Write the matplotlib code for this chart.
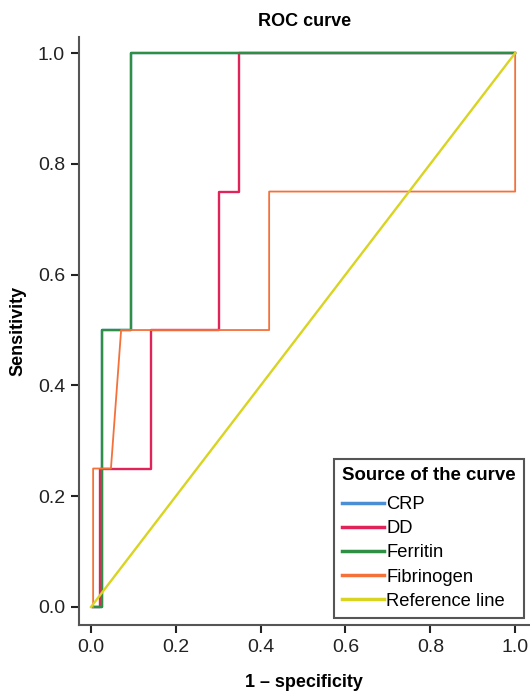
import matplotlib.pyplot as plt

plt.rcParams['font.family'] = ['Liberation Sans', 'DejaVu Sans']

# ROC steps (1 - specificity, sensitivity)
crp_x = [0.005, 0.026, 0.026, 0.094, 0.094, 1.0]
crp_y = [0.0, 0.0, 0.5, 0.5, 1.0, 1.0]

dd_x = [0.005, 0.021, 0.021, 0.142, 0.142, 0.302, 0.302, 0.349, 0.349, 1.0]
dd_y = [0.0, 0.0, 0.25, 0.25, 0.5, 0.5, 0.75, 0.75, 1.0, 1.0]

ferritin_x = [0.005, 0.026, 0.026, 0.094, 0.094, 1.0]
ferritin_y = [0.0, 0.0, 0.5, 0.5, 1.0, 1.0]

fib_x = [0.005, 0.005, 0.047, 0.071, 0.42, 0.42, 1.0, 1.0]
fib_y = [0.0, 0.25, 0.25, 0.5, 0.5, 0.75, 0.75, 1.0]

ref_x = [0.0, 1.0]
ref_y = [0.0, 1.0]

ticks = [0.0, 0.2, 0.4, 0.6, 0.8, 1.0]

fig = plt.figure(figsize=(5.3, 6.91), dpi=100)
ax = fig.add_axes([79 / 530, 66 / 691, 451 / 530, 588 / 691])

ax.plot(crp_x, crp_y, color='#4a8fd6', lw=1.7, label='CRP')
ax.plot(dd_x, dd_y, color='#e0245a', lw=1.7, label='DD')
ax.plot(ferritin_x, ferritin_y, color='#2f8f45', lw=1.7, label='Ferritin')
ax.plot(fib_x, fib_y, color='#f4713a', lw=1.3, label='Fibrinogen')
ax.plot(ref_x, ref_y, color='#d9d421', lw=1.7, label='Reference line')

ax.set_xlim(-0.0283, 1.035)
ax.set_ylim(-0.0325, 1.029)
ax.set_xticks(ticks)
ax.set_yticks(ticks)
ax.set_xticklabels([f'{t:.1f}' for t in ticks])
ax.set_yticklabels([f'{t:.1f}' for t in ticks])
ax.tick_params(labelsize=14, length=6, width=1.5, color='#222222', pad=4,
               labelcolor='#222222')

for s in ['top', 'right']:
    ax.spines[s].set_visible(False)
for s in ['left', 'bottom']:
    ax.spines[s].set_color('#555555')
    ax.spines[s].set_linewidth(1.5)

ax.set_title('ROC curve', fontsize=13, fontweight='bold', pad=8)
ax.set_xlabel('1 – specificity', fontsize=13, fontweight='bold', va='center')
ax.set_ylabel('Sensitivity', fontsize=13, fontweight='bold', va='center')
ax.xaxis.set_label_coords(0.499, -0.097)
ax.yaxis.set_label_coords(-0.135, 0.5)

leg = ax.legend(loc='lower right', bbox_to_anchor=(0.987, 0.012),
                borderaxespad=0,
                title='Source of the curve', fontsize=13.2,
                title_fontproperties={'weight': 'bold', 'size': 13.4},
                handlelength=2.3, handletextpad=0.1, labelspacing=0.39,
                fancybox=False, framealpha=1, borderpad=0.45,
                alignment='left')
leg._legend_box.sep = 8.5
leg.get_frame().set_edgecolor('#555555')
leg.get_frame().set_linewidth(1.5)
for line in leg.get_lines():
    line.set_linewidth(2.5)

fig.savefig('out.png', dpi=100)
